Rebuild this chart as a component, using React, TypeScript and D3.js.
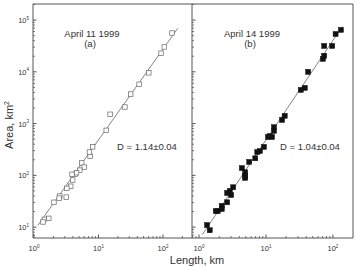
import React from "react";
import * as d3 from "d3";

// Data (log10 values)
const leftLogL = [2.14, 2.02, 1.97, 1.78, 1.63, 1.5, 1.41, 1.18, 1.12, 0.91, 0.87, 0.74, 0.78, 0.71, 0.64, 0.59, 0.6, 0.57, 0.51, 0.5, 0.4, 0.39, 0.31, 0.23, 0.16, 0.14, 0.86, 0.66];
const leftLogA = [4.75, 4.48, 4.36, 3.98, 3.76, 3.57, 3.32, 3.18, 2.87, 2.55, 2.37, 2.24, 2.16, 2.1, 2.02, 2.02, 1.91, 1.79, 1.75, 1.58, 1.6, 1.56, 1.48, 1.17, 1.15, 1.1, 2.45, 2.05];
const rightLogL = [2.12, 2.04, 1.99, 1.87, 1.87, 1.85, 1.63, 1.58, 1.52, 1.28, 1.24, 1.12, 1.12, 1.09, 1.03, 1.06, 0.97, 0.91, 0.87, 0.84, 0.75, 0.64, 0.69, 0.69, 0.69, 0.51, 0.46, 0.42, 0.48, 0.42, 0.34, 0.34, 0.28, 0.25, 0.12, 0.16];
const rightLogA = [4.81, 4.73, 4.5, 4.5, 4.31, 4.25, 4.0, 3.69, 3.65, 3.15, 3.07, 2.93, 2.86, 2.74, 2.74, 2.76, 2.55, 2.47, 2.45, 2.33, 2.26, 2.14, 2.06, 1.99, 1.95, 1.77, 1.7, 1.66, 1.62, 1.48, 1.41, 1.35, 1.31, 1.31, 1.04, 0.94];
const fitSlopes = [1.754, 1.923];
const fitIntercepts = [0.93, 0.76];
const fitRanges = [[0.06, 2.23], [0.05, 2.14]];
const panelTitles = ["April 11 1999", "April 14 1999"];
const panelTags = ["(a)", "(b)"];
const dLabels = ["D = 1.14\u00b10.04", "D = 1.04\u00b10.04"];
const yDecades = [1, 2, 3, 4, 5];
const xDecades = [0, 1, 2];

const FONT = "'Liberation Sans', Arial, sans-serif";
const AX = "#555";

export default function App() {
  const top = 4, bottom = 238;
  const y = d3.scaleLog().domain([Math.pow(10, 0.79), Math.pow(10, 5.31)]).range([bottom, top]);
  const panels = [
    { x0: 33, x1: 192, dom: [Math.pow(10, -0.015), Math.pow(10, 2.45)], L: leftLogL, A: leftLogA, filled: false, tx: 92, dx: 117 },
    { x0: 192, x1: 353, dom: [Math.pow(10, -0.105), Math.pow(10, 2.3)], L: rightLogL, A: rightLogA, filled: true, tx: 252, dx: 280 },
  ];
  const minorY: number[] = [];
  for (let d = 0; d <= 5; d++) for (let m = 2; m <= 9; m++) {
    const v = m * Math.pow(10, d);
    if (v > y.domain()[0] && v < y.domain()[1]) minorY.push(v);
  }
  return (
    <svg width={355} height={266} style={{ position: "absolute", left: 0, top: 0, background: "#fff" }} fontFamily={FONT}>
      <rect x={0} y={0} width={355} height={266} fill="#fff" />
      {panels.map((p, i) => {
        const x = d3.scaleLog().domain(p.dom).range([p.x0, p.x1]);
        const minorX: number[] = [];
        for (let d = -1; d <= 3; d++) for (let m = 2; m <= 9; m++) {
          const v = m * Math.pow(10, d);
          if (v > x.domain()[0] && v < x.domain()[1]) minorX.push(v);
        }
        const [r0, r1] = fitRanges[i];
        const line = d3.line<number>()
          .x((l) => x(Math.pow(10, l)))
          .y((l) => y(Math.pow(10, fitIntercepts[i] + fitSlopes[i] * l)));
        return (
          <g key={i}>
            <line x1={p.x0} x2={p.x1} y1={bottom} y2={bottom} stroke={AX} strokeWidth={1} />
            <line x1={p.x0} x2={p.x0} y1={top} y2={bottom} stroke={AX} strokeWidth={1} />
            {xDecades.map((d) => (
              <g key={d}>
                <line x1={x(Math.pow(10, d))} x2={x(Math.pow(10, d))} y1={bottom} y2={bottom - 3.5} stroke={AX} />
                <text x={x(Math.pow(10, d))} y={bottom + 13} fontSize={7.5} textAnchor="middle" fill="#333">
                  10<tspan dy={-3.5} fontSize={4.5}>{d}</tspan>
                </text>
              </g>
            ))}
            {minorX.map((v, k) => (
              <line key={k} x1={x(v)} x2={x(v)} y1={bottom} y2={bottom - 2} stroke={AX} strokeWidth={0.8} />
            ))}
            {yDecades.map((d) => (
              <g key={d}>
                <line x1={p.x0} x2={p.x0 + 3.5} y1={y(Math.pow(10, d))} y2={y(Math.pow(10, d))} stroke={AX} />
                {i === 0 && (
                  <text x={p.x0 - 4} y={y(Math.pow(10, d)) + 3} fontSize={7.5} textAnchor="end" fill="#333">
                    10<tspan dy={-3.5} fontSize={4.5}>{d}</tspan>
                  </text>
                )}
              </g>
            ))}
            {minorY.map((v, k) => (
              <line key={k} x1={p.x0} x2={p.x0 + 2} y1={y(v)} y2={y(v)} stroke={AX} strokeWidth={0.8} />
            ))}
            <path d={line([r0, r1]) || ""} stroke="#777" strokeWidth={0.9} fill="none" />
            {p.L.map((l, k) => {
              const s = p.filled ? 5 : 4.5;
              return (
                <rect key={k} x={x(Math.pow(10, l)) - s / 2} y={y(Math.pow(10, p.A[k])) - s / 2} width={s} height={s}
                  fill={p.filled ? "#111" : "#fff"} stroke={p.filled ? "#111" : "#666"} strokeWidth={p.filled ? 0.5 : 0.7} />
              );
            })}
            <text x={p.tx} y={37} fontSize={9.5} textAnchor="middle" fill="#333">{panelTitles[i]}</text>
            <text x={p.tx - 2} y={47} fontSize={9.5} textAnchor="middle" fill="#333">{panelTags[i]}</text>
            <text x={p.dx} y={150} fontSize={9.5} fill="#333">{dLabels[i]}</text>
          </g>
        );
      })}
      <line x1={33} x2={353} y1={top} y2={top} stroke={AX} />
      <line x1={353} x2={353} y1={top} y2={bottom} stroke={AX} />
      <text transform="translate(13,125) rotate(-90)" fontSize={11} textAnchor="middle" fill="#333">
        Area, km<tspan dy={-4} fontSize={7}>2</tspan>
      </text>
      <text x={197} y={264} fontSize={11} textAnchor="middle" fill="#333">Length, km</text>
    </svg>
  );
}
